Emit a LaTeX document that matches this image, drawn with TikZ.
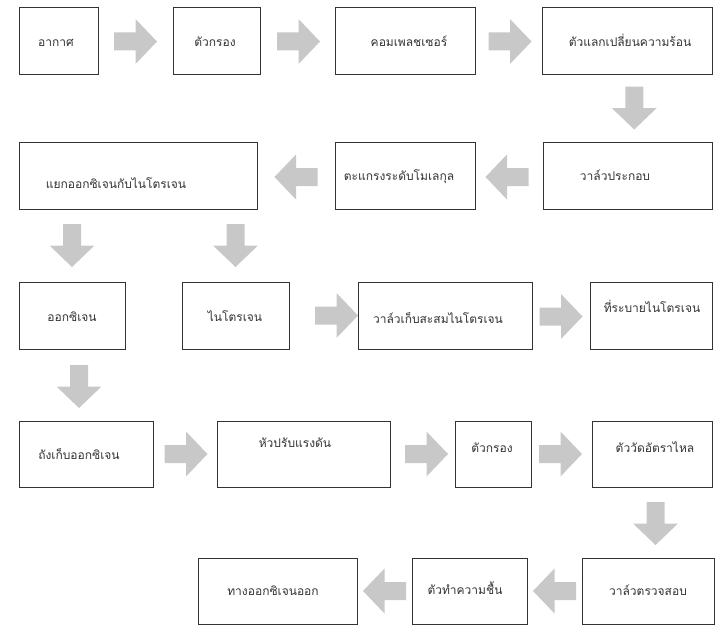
\documentclass[tikz,border=0pt]{standalone}
\usepackage{fontspec}
\newfontfamily\thaifont[Script=Thai]{Loma}
\usetikzlibrary{calc}
\definecolor{boxline}{RGB}{55,50,50}
\definecolor{txt}{RGB}{50,50,50}
\definecolor{arrowgray}{RGB}{200,200,200}
\tikzset{
  box/.style={draw=boxline, line width=0.9pt, rectangle, inner sep=0pt},
  lbl/.style={anchor=base, text=txt, font=\thaifont\fontsize{12}{14}\selectfont, inner sep=0pt},
  barrow/.pic={\fill[arrowgray] (-21.5,-9) -- (0,-9) -- (0,-22.5) -- (21.5,0) -- (0,22.5) -- (0,9) -- (-21.5,9) -- cycle;}
}
\newcommand{\mybox}[5]{\node[box, minimum width={#4-#2}, minimum height={#5-#3}] (#1) at ({(#2+#4)/2},{(#3+#5)/2}) {};}
\begin{document}
\begin{tikzpicture}[x=1pt,y=-1pt]
\useasboundingbox (0,0) rectangle (719,626);
% boxes
\mybox{b1}{19}{7}{98}{74}
\mybox{b2}{173}{7}{260}{74}
\mybox{b3}{335}{7}{475}{74}
\mybox{b4}{542}{7}{712}{74}
\mybox{b5}{543}{142}{712}{209}
\mybox{b6}{335}{142}{475}{209}
\mybox{b7}{19}{142}{257}{209}
\mybox{b8}{19}{282}{125}{349}
\mybox{b9}{182}{282}{289}{349}
\mybox{b10}{358}{282}{532}{349}
\mybox{b11}{590}{282}{712}{349}
\mybox{b12}{19}{421}{153}{487}
\mybox{b13}{217}{421}{390}{487}
\mybox{b14}{455}{421}{531}{487}
\mybox{b15}{592}{421}{712}{487}
\mybox{b16}{582}{558}{714}{624}
\mybox{b17}{412}{558}{527}{624}
\mybox{b18}{198}{558}{357}{624}
% labels
\node[lbl] (t1) at (56,47) {อากาศ};
\node[lbl] (t2) at (215,47) {ตัวกรอง};
\node[lbl] (t3) at (409,47) {คอมเพลชเซอร์};
\node[lbl] (t4) at (630,47) {ตัวแลกเปลี่ยนความร้อน};
\node[lbl] (t5) at (615,180) {วาล์วประกอบ};
\node[lbl] (t6) at (399,180) {ตะแกรงระดับโมเลกุล};
\node[lbl] (t7) at (116,188) {แยกออกซิเจนกับไนโตรเจน};
\node[lbl] (t8) at (72,321) {ออกซิเจน};
\node[lbl] (t9) at (235,321) {ไนโตรเจน};
\node[lbl] (t10) at (438,323) {วาล์วเก็บสะสมไนโตรเจน};
\node[lbl] (t11) at (652,312) {ที่ระบายไนโตรเจน};
\node[lbl] (t12) at (79,459) {ถังเก็บออกซิเจน};
\node[lbl] (t13) at (295,447) {หัวปรับแรงดัน};
\node[lbl] (t14) at (492,452) {ตัวกรอง};
\node[lbl] (t15) at (655,452) {ตัววัดอัตราไหล};
\node[lbl] (t16) at (648,595) {วาล์วตรวจสอบ};
\node[lbl] (t17) at (465,594) {ตัวทำความชื้น};
\node[lbl] (t18) at (273,595) {ทางออกซิเจนออก};
% block arrows
\pic at ($(b1.east)!.5!(b2.west)+(0,1)$) {barrow};
\pic at ($(b2.east)!.5!(b3.west)+(1,1)$) {barrow};
\pic at ($(b3.east)!.5!(b4.west)+(1.5,1)$) {barrow};
\pic[rotate=-90] at ($(b4.south)!.5!(b5.north)+(7,0)$) {barrow};
\pic[rotate=180] at ($(b5.west)!.5!(b6.east)+(-2,1.5)$) {barrow};
\pic[rotate=180] at ($(b6.west)!.5!(b7.east)+(0,1.5)$) {barrow};
\pic[rotate=-90] at ($(b7.south-|b8.north)!.5!(b8.north)$) {barrow};
\pic[rotate=-90] at ($(b7.south-|b9.north)!.5!(b9.north)$) {barrow};
\pic at ($(b9.east)!.5!(b10.west)+(13,0)$) {barrow};
\pic at ($(b10.east)!.5!(b11.west)+(0,1)$) {barrow};
\pic[rotate=-90] at ($(b8.south)!.5!(b12.north)+(0,1.5)$) {barrow};
\pic at ($(b12.east)!.5!(b13.west)+(1,0)$) {barrow};
\pic at ($(b13.east)!.5!(b14.west)+(4,0)$) {barrow};
\pic at ($(b14.east)!.5!(b15.west)+(-1,0)$) {barrow};
\pic[rotate=-90] at ($(b15.south)!.5!(b16.north)+(5.5,1)$) {barrow};
\pic[rotate=180] at ($(b16.west)!.5!(b17.east)$) {barrow};
\pic[rotate=180] at ($(b17.west)!.5!(b18.east)$) {barrow};
\end{tikzpicture}
\end{document}
